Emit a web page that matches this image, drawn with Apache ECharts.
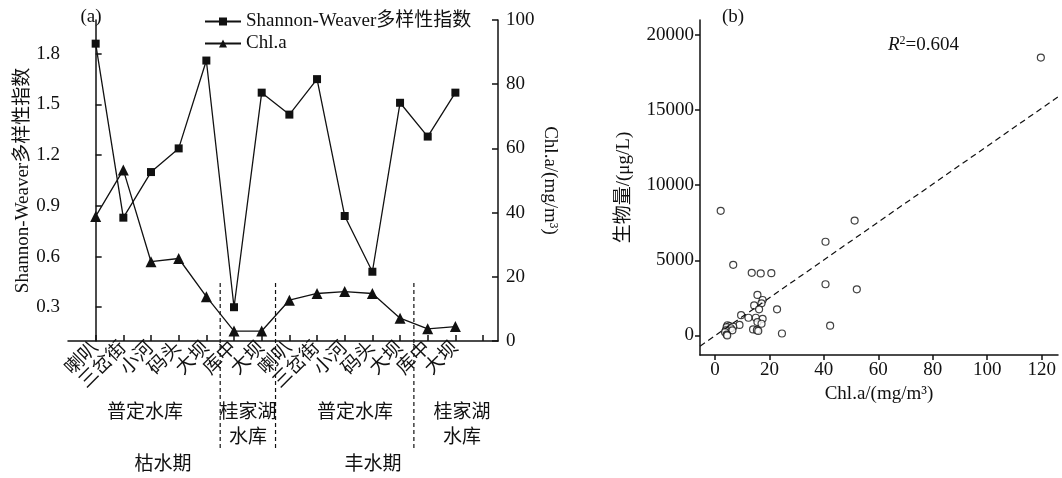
<!DOCTYPE html>
<html>
<head>
<meta charset="utf-8">
<script src="https://cdn.jsdelivr.net/npm/echarts@6/dist/echarts.min.js"></script>
<style>
  html, body { margin: 0; padding: 0; background: #fff; }
  #chart { width: 1062px; height: 478px; }
</style>
</head>
<body>
<div id="chart"></div>
<script>
// panel (a): sampling sites along the x axis
const sites = ['喇叭', '三岔街', '小河', '码头', '大坝', '库中', '大坝', '喇叭', '三岔街', '小河', '码头', '大坝', '库中', '大坝'];
const shannon = [1.86, 0.83, 1.10, 1.24, 1.76, 0.30, 1.57, 1.44, 1.65, 0.84, 0.51, 1.51, 1.31, 1.57];
const chlA = [38.8, 53.3, 24.7, 25.7, 13.8, 3.1, 3.1, 12.7, 14.8, 15.4, 14.8, 7.1, 3.8, 4.5];
const shannonTicks = [0.3, 0.6, 0.9, 1.2, 1.5, 1.8];
const siteTicks = [0, 1, 2, 3, 4, 5, 6, 7, 8, 9, 10, 11, 12, 13, 14];
const dividers = [4.5, 6.5, 11.5];

// panel (b): Chl.a vs biomass
const scatterChl = [119.7, 2.1, 51.3, 40.6, 6.7, 13.5, 16.8, 20.7, 40.6, 52.1, 15.6, 17.5, 17.1, 14.4, 16.2, 22.8, 9.6, 12.3, 15.0, 17.5,
  15.6, 17.1, 9.0, 42.3, 4.6, 5.3, 6.7, 4.3, 5.8, 4.0, 6.4, 3.7, 4.3, 4.5, 14.0, 15.4, 15.9, 24.6];
const scatterBiomass = [18500, 8300, 7650, 6240, 4700, 4170, 4130, 4150, 3410, 3070, 2700, 2360, 2140, 2000, 1740, 1740, 1350, 1180, 1180, 1110,
  890, 780, 700, 650, 680, 620, 580, 560, 480, 340, 340, 220, 60, 0, 400, 350, 300, 130];
const chlTicksB = [0, 20, 40, 60, 80, 100, 120];
const biomassTicks = [0, 5000, 10000, 15000, 20000];
const fitSlope = 126.2;
const fitIntercept = -19;

const FONT = '"Liberation Serif", "Times New Roman", "Noto Sans CJK SC", serif';
const INK = '#111';

const chart = echarts.init(document.getElementById('chart'));

const xMinB = -5.5, xMaxB = 126;
const fitLine = [xMinB, xMaxB].map(x => [x, fitSlope * x + fitIntercept]);

const axisText = { color: INK, fontFamily: FONT, fontSize: 19 };

chart.setOption({
  backgroundColor: '#fff',
  animation: false,
  textStyle: { fontFamily: FONT, color: INK },
  legend: {
    orient: 'vertical',
    left: 199,
    top: 7,
    itemWidth: 36,
    itemHeight: 10,
    itemGap: 3,
    textStyle: { fontFamily: FONT, fontSize: 19, color: INK },
    data: ['Shannon-Weaver多样性指数', 'Chl.a']
  },
  grid: [
    { left: 68, top: 20, width: 430, height: 321, outerBoundsMode: 'none' },
    { left: 700, top: 20, right: 4, bottom: 123, outerBoundsMode: 'none' }
  ],
  xAxis: [
    {
      type: 'value', gridIndex: 0, min: -1, max: 14.54, interval: 1,
      splitLine: { show: false },
      axisLine: { lineStyle: { color: INK, width: 1.5 } },
      axisTick: { inside: true, length: 6, customValues: siteTicks, lineStyle: { color: INK, width: 1.5 } },
      axisLabel: {
        customValues: siteTicks.slice(0, sites.length),
        rotate: 45, margin: 4, fontSize: 19, color: INK, fontFamily: FONT,
        formatter: v => sites[Math.round(v)] || ''
      }
    },
    {
      type: 'value', gridIndex: 1, min: xMinB, max: xMaxB,
      splitLine: { show: false },
      axisLine: { onZero: false, lineStyle: { color: INK, width: 1.5 } },
      axisTick: { length: 5, customValues: chlTicksB, lineStyle: { color: INK, width: 1.5 } },
      axisLabel: Object.assign({ customValues: chlTicksB, margin: 6, formatter: v => String(v) }, axisText),
      name: 'Chl.a/(mg/m³)', nameLocation: 'middle', nameGap: 30,
      nameTextStyle: { fontFamily: FONT, fontSize: 19, color: INK }
    }
  ],
  yAxis: [
    {
      type: 'value', gridIndex: 0, min: 0.1, max: 2.0,
      splitLine: { show: false },
      axisLine: { show: true, lineStyle: { color: INK, width: 1.5 } },
      axisTick: { show: true, inside: true, length: 6, customValues: shannonTicks, lineStyle: { color: INK, width: 1.5 } },
      axisLabel: Object.assign({ customValues: shannonTicks, margin: 8, formatter: v => v.toFixed(1) }, axisText),
      name: 'Shannon-Weaver多样性指数', nameLocation: 'middle', nameGap: 35,
      nameTextStyle: { fontFamily: FONT, fontSize: 19, color: INK }
    },
    {
      type: 'value', gridIndex: 0, position: 'right', min: 0, max: 100, interval: 20,
      splitLine: { show: false },
      axisLine: { show: true, lineStyle: { color: INK, width: 1.5 } },
      axisTick: { show: true, inside: true, length: 6, lineStyle: { color: INK, width: 1.5 } },
      axisLabel: Object.assign({ margin: 8 }, axisText),
      name: 'Chl.a/(mg/m³)', nameLocation: 'middle', nameGap: 42, nameRotate: -90,
      nameTextStyle: { fontFamily: FONT, fontSize: 19, color: INK }
    },
    {
      type: 'value', gridIndex: 1, min: -1300, max: 21000,
      splitLine: { show: false },
      axisLine: { show: true, onZero: false, lineStyle: { color: INK, width: 1.5 } },
      axisTick: { show: true, length: 5, customValues: biomassTicks, lineStyle: { color: INK, width: 1.5 } },
      axisLabel: Object.assign({ customValues: biomassTicks, margin: 6, formatter: v => String(v) }, axisText),
      name: '生物量/(μg/L)', nameLocation: 'middle', nameGap: 66,
      nameTextStyle: { fontFamily: FONT, fontSize: 19, color: INK }
    }
  ],
  series: [
    {
      name: 'Shannon-Weaver多样性指数', type: 'line', xAxisIndex: 0, yAxisIndex: 0,
      data: shannon.map((v, i) => [i, v]),
      symbol: 'rect', symbolSize: 8,
      lineStyle: { color: INK, width: 1.3 },
      itemStyle: { color: INK }
    },
    {
      name: 'Chl.a', type: 'line', xAxisIndex: 0, yAxisIndex: 1,
      data: chlA.map((v, i) => [i, v]),
      symbol: 'triangle', symbolSize: 11,
      lineStyle: { color: INK, width: 1.3 },
      itemStyle: { color: INK }
    },
    {
      type: 'scatter', xAxisIndex: 1, yAxisIndex: 2,
      data: scatterChl.map((x, i) => [x, scatterBiomass[i]]),
      symbol: 'circle', symbolSize: 7,
      itemStyle: { color: '#fff', borderColor: INK, borderWidth: 1.2 }
    },
    {
      type: 'line', xAxisIndex: 1, yAxisIndex: 2,
      data: fitLine, showSymbol: false, symbol: 'none',
      lineStyle: { color: INK, width: 1.2, type: [6, 4] }
    }
  ]
});

// annotations: panel tags, R², group and season labels, dashed dividers
const label = (text, x, y, extra) => ({
  type: 'text', x, y,
  style: Object.assign({ text, fill: INK, font: '19px ' + FONT, align: 'center', verticalAlign: 'middle' }, extra || {})
});

const divX = dividers.map(d => chart.convertToPixel({ xAxisIndex: 0 }, d));
const dividerLines = divX.map(x => ({
  type: 'line', shape: { x1: x, y1: 283, x2: x, y2: 450 },
  style: { stroke: INK, lineWidth: 1.2, lineDash: [4, 3] }
}));

chart.setOption({
  graphic: [
    label('(a)', 91, 17),
    label('(b)', 733, 17),
    {
      type: 'text', x: 888, y: 45,
      style: {
        text: '{i|R}{s|2}{n|=0.604}', verticalAlign: 'middle', fill: INK,
        rich: {
          i: { fontFamily: FONT, fontSize: 19, fontStyle: 'italic', fill: INK },
          s: { fontFamily: FONT, fontSize: 12, fill: INK, verticalAlign: 'top', padding: [0, 0, 8, 0] },
          n: { fontFamily: FONT, fontSize: 19, fill: INK }
        }
      }
    },
    label('普定水库', 145, 413),
    label('桂家湖', 248, 413),
    label('水库', 248, 438),
    label('普定水库', 355, 413),
    label('桂家湖', 462, 413),
    label('水库', 462, 438),
    label('枯水期', 163, 465),
    label('丰水期', 373, 465)
  ].concat(dividerLines)
});

window.addEventListener('resize', () => chart.resize());
</script>
</body>
</html>
